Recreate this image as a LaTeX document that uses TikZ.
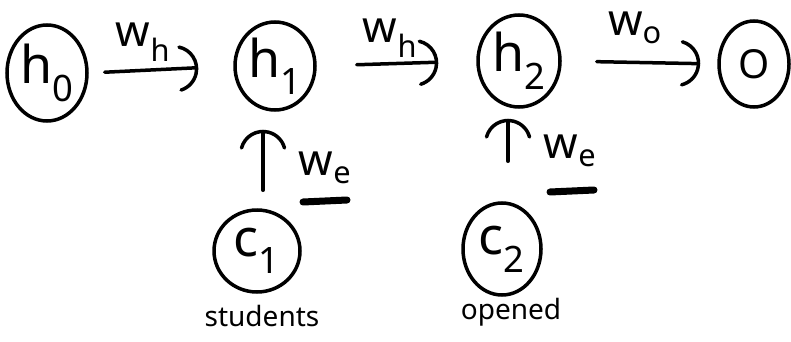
\documentclass[tikz,border=0pt]{standalone}
\usepackage{fontspec}
\setmainfont{Noto Sans}
\usetikzlibrary{shapes.geometric,arrows.meta,calc}
\begin{document}
\begin{tikzpicture}[x=1pt,y=-1pt,
  nd/.style={ellipse,draw,line width=3.5pt,inner sep=0pt,font=\fontsize{52}{52}\selectfont},
  arr/.style={line width=3.5pt,line cap=round,arrows={-Arc Barb[length=24pt,arc=150,line cap=round]}},
  wl/.style={font=\fontsize{44}{44}\selectfont},
  word/.style={font=\fontsize{28}{28}\selectfont},
  bar/.style={line width=7pt,line cap=round}]
\useasboundingbox (0,0) rectangle (791,342);
% nodes
\node[nd,minimum width=80pt,minimum height=96pt] (h0) at (47,73) {h\textsubscript{0}};
\node[nd,minimum width=80pt,minimum height=88pt] (h1) at (275,66) {h\textsubscript{1}};
\node[nd,minimum width=82pt,minimum height=92pt] (h2) at (519,61) {h\textsubscript{2}};
\node[nd,minimum width=70pt,minimum height=86pt,font=\fontsize{40}{40}\selectfont] (o) at (754,64) {O};
\node[nd,minimum width=86pt,minimum height=82pt] (c1) at (257,251) {c\textsubscript{1}};
\node[nd,minimum width=78pt,minimum height=92pt] (c2) at (502,249) {c\textsubscript{2}};
% arrows
\draw[arr,shorten <=16pt,shorten >=35pt] (h0.east) -- (h1.west);
\draw[arr,shorten <=40pt,shorten >=38pt] (h1.east) -- (h2.west);
\draw[arr,shorten <=35pt,shorten >=17pt] (h2.east) -- (o.west);
\draw[arr,shorten <=18pt,shorten >=18pt] ([xshift=6pt]c1.north) -- ([xshift=6pt]c1.north |- h1.south);
\draw[arr,shorten <=40pt,shorten >=10pt] ([xshift=6pt]c2.north) -- ([xshift=6pt]c2.north |- h2.south);
% labels
\node[wl] (l1) at (143,42) {w\textsubscript{h}};
\node[wl] (l2) at (390,38) {w\textsubscript{h}};
\node[wl] (l3) at (635,28) {w\textsubscript{o}};
\node[wl] (l4) at (325,168) {w\textsubscript{e}};
\node[wl] (l5) at (570,151) {w\textsubscript{e}};
\draw[bar] ([xshift=-22pt,yshift=-34pt]l4.center) coordinate (b1a) -- ([xshift=22pt,yshift=-32pt]l4.center) coordinate (b1b);
\draw[bar] ([xshift=-20pt,yshift=-41pt]l5.center) coordinate (b2a) -- ([xshift=24pt,yshift=-39pt]l5.center) coordinate (b2b);
\node[word] (s1) at (262,316) {students};
\node[word] (s2) at (511,312) {opened};
\end{tikzpicture}
\end{document}
